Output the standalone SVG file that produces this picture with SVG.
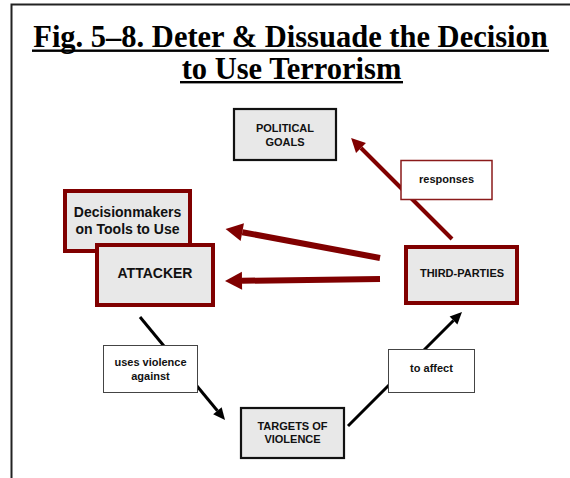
<svg xmlns="http://www.w3.org/2000/svg" width="570" height="478" viewBox="0 0 570 478">
<style>
.title{font-family:"Liberation Serif","Times New Roman",serif;font-weight:bold;font-size:30.5px;fill:#000;text-anchor:middle}
.node{font-family:"Liberation Sans",Arial,sans-serif;font-weight:bold;font-size:11px;fill:#111;text-anchor:middle}
.big{font-size:14px}
.box{fill:#e8e8e8}
.redbox{fill:#e8e8e8;stroke:#800000;stroke-width:4}
.blkbox{fill:#e8e8e8;stroke:#111;stroke-width:2.2}
.lbl{fill:#fff;stroke:#444;stroke-width:1}
.lblred{fill:#fff;stroke:#8b1a1a;stroke-width:1.5}
.redthick{stroke:#800000;stroke-width:6;fill:none}
.redthin{stroke:#800000;stroke-width:4;fill:none}
.blk{stroke:#000;stroke-width:3;fill:none}
</style>
<defs>
<marker id="ahRedBig" markerUnits="userSpaceOnUse" markerWidth="18" markerHeight="18" refX="0" refY="9" orient="auto" overflow="visible"><path d="M0,0 L17,9 L0,18 z" fill="#800000"/></marker>
<marker id="ahRed" markerUnits="userSpaceOnUse" markerWidth="14" markerHeight="14" refX="0" refY="7" orient="auto" overflow="visible"><path d="M0,0 L14,7 L0,14 z" fill="#800000"/></marker>
<marker id="ahBlk" markerUnits="userSpaceOnUse" markerWidth="12" markerHeight="12" refX="0" refY="5.5" orient="auto" overflow="visible"><path d="M0,0 L12,5.5 L0,11 z" fill="#000"/></marker>
</defs>
<rect width="570" height="478" fill="#fff"/>
<g id="frame">
<path d="M11.5,478 L11.5,4.5 L570,4.5" fill="none" stroke="#222" stroke-width="2"/>
</g>
<g id="title">
<text class="title" x="290.5" y="47">Fig. 5–8. Deter &amp; Dissuade the Decision</text>
<rect x="32" y="49.5" width="517" height="2.4" fill="#000"/>
<text class="title" x="291.5" y="78.5">to Use Terrorism</text>
<rect x="180" y="81" width="223" height="2.4" fill="#000"/>
</g>
<g id="connectors">
<line class="redthick" x1="380" y1="258" x2="242.3" y2="232.2" marker-end="url(#ahRedBig)"/>
<line class="redthick" x1="380" y1="279" x2="242" y2="280.8" marker-end="url(#ahRedBig)"/>
<line class="redthin" x1="452" y1="239" x2="361" y2="148" marker-end="url(#ahRed)"/>
<line class="blk" x1="140" y1="317" x2="217.4" y2="410.7" marker-end="url(#ahBlk)"/>
<line class="blk" x1="348" y1="426" x2="453.5" y2="320.5" marker-end="url(#ahBlk)"/>
<g id="label-uses">
<rect class="lbl" x="103.5" y="345.5" width="94" height="47"/>
<text class="node" x="150.5" y="366">uses violence</text>
<text class="node" x="150.5" y="380">against</text>
</g>
<g id="label-affect">
<rect class="lbl" x="388.5" y="349.5" width="86" height="43"/>
<text class="node" x="431.5" y="372">to affect</text>
</g>
<g id="label-responses">
<rect class="lblred" x="401" y="160.5" width="91" height="39"/>
<text class="node" x="446.5" y="183">responses</text>
</g>
</g>
<g id="node-political-goals">
<rect class="blkbox" x="234" y="109" width="102" height="51"/>
<text class="node" x="285" y="132">POLITICAL</text>
<text class="node" x="285" y="146">GOALS</text>
</g>
<g id="node-third-parties">
<rect class="redbox" x="406" y="247" width="111" height="56"/>
<text class="node" x="462" y="277">THIRD-PARTIES</text>
</g>
<g id="node-decisionmakers">
<rect class="redbox" x="65" y="191" width="125" height="60"/>
<text class="node big" x="127.5" y="217">Decisionmakers</text>
<text class="node big" x="127.5" y="234">on Tools to Use</text>
</g>
<g id="node-attacker">
<rect class="redbox" x="97" y="245" width="116" height="60"/>
<text class="node big" x="155" y="278">ATTACKER</text>
</g>
<g id="node-targets">
<rect class="blkbox" x="241" y="408" width="103" height="50"/>
<text class="node" x="292.5" y="430">TARGETS OF</text>
<text class="node" x="292.5" y="443">VIOLENCE</text>
</g>
</svg>
